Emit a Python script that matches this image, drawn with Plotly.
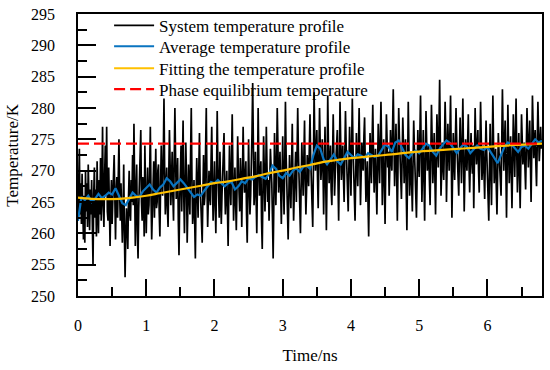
import plotly.graph_objects as go

# ---- data ----
dt_system = 0.01  # ns between samples of the system temperature
system_temp = [
    262.0, 266.5, 273.5, 263.0, 268.0, 261.5, 269.5, 264.0, 259.0, 266.0, 258.5, 270.0, 263.5, 268.0, 261.0, 271.0, 265.5, 260.5, 267.0, 263.0,
    268.5, 261.0, 255.0, 266.0, 270.5, 262.5, 267.0, 259.5, 271.5, 264.0, 260.0, 268.5, 263.0, 272.0, 262.0, 266.5, 277.0, 264.5, 261.0, 269.0,
    274.0, 266.0, 277.0, 263.5, 262.0, 270.5, 266.0, 258.0, 264.5, 268.5, 261.5, 264.0, 269.0, 272.5, 265.0, 259.0, 266.5, 269.0, 262.5, 267.5,
    275.0, 266.5, 262.0, 268.0, 264.0, 258.5, 263.5, 271.0, 260.0, 253.0, 259.5, 264.0, 261.0, 257.5, 265.5, 270.0, 263.0, 262.0, 268.5, 265.0,
    272.5, 264.5, 277.5, 262.0, 258.0, 266.5, 271.0, 260.5, 256.0, 264.0, 268.0, 272.0, 276.5, 265.0, 262.0, 269.0, 266.5, 259.5, 274.0, 267.0,
    260.0, 265.5, 270.5, 263.0, 264.5, 269.5, 277.0, 266.0, 259.0, 263.5, 268.0, 271.5, 262.5, 267.0, 273.5, 264.0, 265.0, 270.0, 271.0, 263.5,
    259.5, 267.0, 274.0, 268.5, 266.0, 272.0, 281.5, 270.0, 263.0, 266.5, 270.5, 264.0, 261.0, 269.0, 276.5, 271.0, 264.5, 268.0, 273.0, 266.0,
    262.0, 271.5, 280.0, 272.0, 265.5, 268.0, 272.0, 262.0, 256.5, 265.0, 270.0, 274.0, 263.5, 268.5, 278.0, 266.0, 260.0, 267.5, 274.5, 269.0,
    258.5, 264.0, 271.0, 266.5, 263.0, 272.5, 280.0, 269.0, 261.5, 264.0, 268.5, 262.0, 256.0, 265.5, 272.0, 267.0, 262.5, 270.0, 276.0, 268.0,
    264.0, 261.0, 258.5, 266.0, 272.5, 264.5, 266.0, 273.5, 280.0, 268.0, 261.0, 265.5, 270.0, 266.0, 264.5, 271.5, 277.0, 268.5, 262.0, 266.0,
    271.5, 265.0, 260.0, 268.5, 279.5, 271.0, 265.0, 262.5, 273.0, 267.5, 261.5, 266.0, 268.5, 272.5, 276.0, 268.0, 263.0, 266.5, 270.0, 264.0,
    258.0, 266.5, 274.0, 268.0, 264.5, 271.5, 279.0, 269.5, 262.0, 266.0, 270.5, 265.0, 260.5, 267.0, 275.5, 270.0, 266.0, 263.5, 272.0, 268.5,
    261.0, 268.5, 277.0, 270.0, 266.5, 269.0, 271.5, 263.0, 258.5, 266.5, 275.0, 268.0, 263.0, 266.0, 269.5, 276.0, 284.0, 272.0, 264.5, 267.0,
    273.0, 266.0, 260.0, 268.5, 280.0, 271.5, 266.0, 269.0, 271.5, 262.0, 257.5, 266.5, 275.5, 270.0, 263.5, 268.0, 277.0, 270.5, 265.0, 268.5,
    262.0, 268.0, 273.5, 270.5, 268.0, 262.5, 256.0, 265.0, 276.0, 270.0, 264.5, 271.0, 280.0, 274.0, 266.5, 269.0, 273.0, 267.0, 261.5, 268.5,
    275.5, 268.0, 263.0, 271.0, 281.0, 272.5, 266.0, 262.5, 259.0, 266.0, 272.5, 268.0, 264.0, 270.5, 277.5, 269.0, 262.0, 266.5, 270.5, 273.0,
    265.0, 271.5, 280.0, 273.0, 268.5, 264.0, 260.0, 267.5, 274.5, 270.0, 266.0, 272.0, 278.0, 268.5, 263.0, 267.0, 272.5, 270.0, 267.5, 273.5,
    279.0, 272.0, 268.0, 264.0, 261.0, 270.5, 282.5, 275.0, 270.0, 273.0, 276.5, 269.0, 264.0, 272.0, 280.0, 274.0, 268.5, 271.0, 275.0, 270.5,
    263.0, 270.0, 277.0, 268.5, 260.5, 269.0, 282.0, 274.0, 268.0, 271.0, 274.0, 267.0, 264.5, 271.5, 279.0, 272.0, 266.0, 269.5, 271.5, 274.5,
    276.5, 268.5, 262.0, 271.0, 281.0, 274.5, 268.5, 271.5, 274.0, 269.0, 265.0, 272.5, 279.5, 274.0, 270.0, 266.0, 263.5, 270.5, 277.0, 272.0,
    266.0, 273.5, 281.5, 274.0, 269.0, 265.5, 262.0, 269.0, 276.0, 271.0, 267.5, 273.5, 280.0, 272.5, 264.5, 269.5, 274.5, 271.0, 270.0, 275.5,
    278.5, 271.0, 265.0, 268.5, 271.5, 265.0, 259.5, 268.0, 276.0, 272.0, 268.0, 274.5, 280.5, 273.0, 266.5, 270.0, 273.5, 268.0, 263.0, 270.5,
    277.5, 272.0, 268.0, 275.0, 281.0, 273.5, 264.5, 270.0, 275.0, 268.0, 261.5, 270.5, 279.0, 274.5, 270.5, 273.0, 266.0, 270.5, 276.5, 272.0,
    270.0, 276.5, 283.0, 275.0, 267.5, 272.0, 277.5, 270.0, 262.0, 271.0, 280.0, 275.5, 271.0, 268.0, 265.5, 272.0, 278.5, 274.0, 268.0, 273.0,
    275.0, 267.0, 260.5, 270.0, 281.0, 273.5, 266.0, 269.5, 273.0, 268.0, 263.5, 271.0, 278.0, 273.5, 268.0, 265.0, 262.5, 269.0, 276.5, 272.0,
    269.0, 275.5, 282.0, 273.0, 265.0, 270.5, 276.5, 269.0, 262.0, 271.0, 279.5, 274.5, 270.0, 272.5, 274.0, 268.5, 264.5, 272.0, 280.5, 275.0,
    268.0, 271.5, 276.0, 269.0, 263.0, 271.0, 279.0, 274.5, 270.5, 277.0, 284.5, 275.0, 266.0, 270.0, 274.5, 271.0, 268.5, 274.0, 281.0, 276.0,
    265.0, 271.0, 277.5, 273.5, 270.0, 276.0, 282.0, 272.5, 262.5, 269.5, 276.0, 271.5, 268.5, 274.5, 280.0, 275.0, 271.5, 269.0, 266.0, 273.0,
    278.5, 273.0, 268.0, 274.0, 281.5, 272.0, 263.5, 269.5, 275.0, 272.5, 270.0, 274.5, 279.0, 271.0, 266.5, 271.5, 276.0, 272.0, 269.5, 274.0,
    264.0, 272.0, 280.0, 274.5, 271.0, 274.0, 276.5, 270.0, 266.5, 273.5, 281.0, 275.0, 268.5, 271.0, 274.0, 269.5, 265.5, 272.5, 278.0, 273.0,
    270.0, 266.0, 262.0, 270.5, 277.5, 270.0, 264.5, 273.0, 282.0, 274.5, 268.0, 271.0, 273.5, 267.5, 263.0, 269.5, 276.0, 273.0, 270.5, 268.0,
    266.0, 274.5, 283.0, 276.0, 270.0, 274.0, 278.0, 270.5, 262.5, 271.0, 280.5, 274.0, 268.0, 272.0, 275.5, 269.5, 264.0, 271.5, 279.0, 274.5,
    269.0, 275.0, 281.5, 273.0, 266.5, 271.0, 276.0, 270.0, 264.0, 271.5, 279.0, 275.0, 271.0, 273.0, 274.5, 270.5, 267.0, 273.5, 280.0, 275.5,
    270.5, 274.0, 278.0, 271.5, 265.0, 273.0, 282.0, 277.0, 272.0, 274.5, 276.5, 271.0, 267.5, 274.0, 281.0, 276.0, 271.5, 274.0, 277.0, 273.5,
    275.0,
]

dt_average = 0.05
average_temp = [
    262.0, 265.8, 265.3, 266.0, 265.0, 265.5, 266.3, 265.6, 266.0, 266.5,
    266.2, 267.2, 266.0, 264.8, 264.5, 265.5, 266.5, 266.0, 265.8, 266.7,
    267.3, 267.8, 267.0, 266.5, 267.3, 267.8, 268.8, 268.3, 267.5, 268.0,
    268.6, 268.0, 267.2, 266.5, 265.8, 266.2, 266.0, 266.8, 267.5, 268.2,
    268.0, 268.5, 268.0, 267.5, 268.0, 268.2, 267.0, 267.5, 268.3, 268.0,
    268.8, 268.6, 269.0, 269.3, 269.0, 268.7, 269.5, 270.8, 270.3, 269.2,
    268.8, 269.6, 269.2, 270.0, 270.4, 269.8, 270.6, 270.8, 270.3, 272.5,
    274.0, 273.5, 271.8, 271.0, 271.8, 272.6, 271.5, 271.0, 272.0, 273.0,
    272.5, 272.0, 272.6, 272.4, 272.0, 272.8, 272.5, 272.2, 272.4, 273.2,
    274.2, 273.8, 273.0, 274.5, 274.8, 273.6, 272.5, 272.0, 272.8, 273.2,
    272.8, 273.5, 274.3, 274.0, 273.0, 272.4, 273.5, 274.2, 274.8, 274.4,
    273.6, 272.8, 273.6, 274.2, 273.8, 272.8, 273.4, 274.0, 273.5, 273.3,
    273.8, 273.0, 272.0, 271.2, 272.5, 273.8, 274.5, 274.2, 273.6, 273.0,
    273.8, 274.0, 273.5, 274.2, 275.0, 274.5, 274.8,
]

dt_fit = 0.2
fit_temp = [
    265.7, 265.5, 265.45, 265.5, 265.7, 266.0, 266.4, 266.8, 267.2, 267.6,
    268.0, 268.3, 268.7, 269.1, 269.6, 270.0, 270.5, 270.9, 271.4, 271.7,
    272.0, 272.2, 272.4, 272.6, 272.85, 273.05, 273.2, 273.35, 273.5, 273.65,
    273.8, 273.95, 274.1, 274.2, 274.3,
]

equilibrium_temp = 274.3
x_range = [0, 6.8]
y_range = [250, 295]
x_ticks = [0, 1, 2, 3, 4, 5, 6]
y_ticks = [250, 255, 260, 265, 270, 275, 280, 285, 290, 295]

series_names = [
    "System temperature profile",
    "Average temperature profile",
    "Fitting the temperature profile",
    "Phase equilibrium temperature",
]
x_title = "Time/ns"
y_title = "Temperature/K"

t_system = [round(i * dt_system, 4) for i in range(len(system_temp))]
t_average = [round(i * dt_average, 4) for i in range(len(average_temp))]
t_fit = [round(i * dt_fit, 4) for i in range(len(fit_temp))]

FONT = "Liberation Serif"

fig = go.Figure()
fig.add_trace(go.Scatter(x=t_system, y=system_temp, mode="lines",
                         line=dict(color="black", width=1.7),
                         name=series_names[0], legend="legend"))
fig.add_trace(go.Scatter(x=t_average, y=average_temp, mode="lines",
                         line=dict(color="#0A74C0", width=2.2),
                         name=series_names[1], legend="legend2"))
fig.add_trace(go.Scatter(x=t_fit, y=fit_temp, mode="lines",
                         line=dict(color="#FFC000", width=2.2, shape="spline"),
                         name=series_names[2], legend="legend3"))
fig.add_trace(go.Scatter(x=x_range, y=[equilibrium_temp, equilibrium_temp],
                         mode="lines",
                         line=dict(color="#FF0000", width=2.2, dash="11px,5px"),
                         name=series_names[3], legend="legend4"))

legend_rows = [0.958, 0.884, 0.806, 0.732]  # paper-y of each legend row
legend_style = dict(x=0.067, xanchor="left", yanchor="middle",
                    bgcolor="rgba(0,0,0,0)", font=dict(size=17, family=FONT),
                    itemwidth=40)

fig.update_layout(
    width=550, height=370,
    margin=dict(l=78, r=8, t=12, b=74),
    paper_bgcolor="white", plot_bgcolor="white",
    font=dict(family=FONT, size=16, color="black"),
    showlegend=True,
    legend=dict(y=legend_rows[0], **legend_style),
    legend2=dict(y=legend_rows[1], **legend_style),
    legend3=dict(y=legend_rows[2], **legend_style),
    legend4=dict(y=legend_rows[3], **legend_style),
    annotations=[dict(text=y_title, xref="paper", yref="paper",
                      x=-0.143, y=0.5, xanchor="center", yanchor="middle",
                      textangle=-90, showarrow=False,
                      font=dict(size=17, family=FONT, color="black"))],
)

fig.update_xaxes(
    range=x_range, showgrid=False, zeroline=False, automargin=False,
    showline=True, linecolor="black", linewidth=1.8, mirror=True,
    ticks="inside", ticklen=17, tickwidth=1.5, tickcolor="black",
    tickvals=x_ticks,
    ticklabelstandoff=14,
    minor=dict(ticks="inside", ticklen=9, tickwidth=1.5, tickcolor="black", dtick=0.5),
    title=dict(text=x_title, font=dict(size=17, family=FONT), standoff=16),
)
fig.update_yaxes(
    range=y_range, showgrid=False, zeroline=False, automargin=False,
    showline=True, linecolor="black", linewidth=1.8, mirror=True,
    ticks="inside", ticklen=18, tickwidth=1.5, tickcolor="black",
    tickvals=y_ticks,
    ticklabelstandoff=18,
    minor=dict(ticks="inside", ticklen=9, tickwidth=1.5, tickcolor="black", dtick=2.5),
)

fig.write_html("out.html", config={"displayModeBar": False},
               post_script="document.body.style.margin='0px';document.body.style.padding='0px';")
